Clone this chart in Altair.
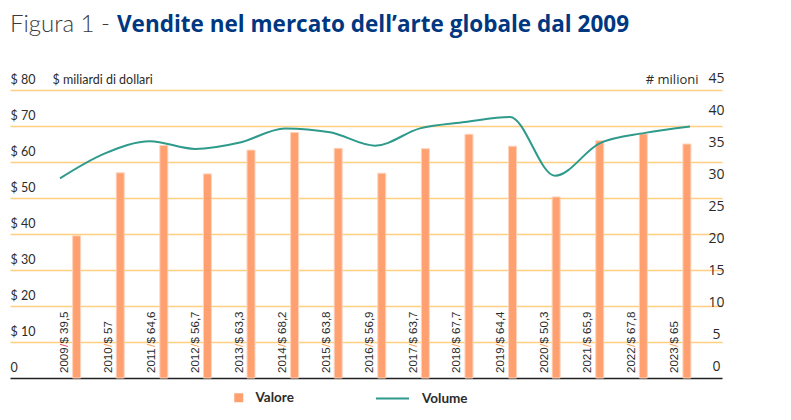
import altair as alt
import pandas as pd

# ---- data ----
anni = [2009, 2010, 2011, 2012, 2013, 2014, 2015, 2016, 2017, 2018, 2019, 2020, 2021, 2022, 2023]
valore = [39.5, 57, 64.6, 56.7, 63.3, 68.2, 63.8, 56.9, 63.7, 67.7, 64.4, 50.3, 65.9, 67.8, 65]
volume = [31.2, 35.1, 37.0, 35.8, 36.8, 39.0, 38.4, 36.3, 39.0, 40.0, 40.8, 31.6, 36.7, 38.3, 39.3]

left_ticks = [0, 10, 20, 30, 40, 50, 60, 70, 80]
right_ticks = [0, 5, 10, 15, 20, 25, 30, 35, 40, 45]

serie = ["Valore", "Volume"]
titolo_a = "Figura 1 - "
titolo_b = "Vendite nel mercato dell\u2019arte globale dal 2009"

df = pd.DataFrame({
    "anno": anni,
    "valore": valore,
    "volume": volume,
    "anno_txt": [str(a) for a in anni],
    "val_txt": [("$ %g" % v).replace(".", ",") for v in valore],
    "slash": ["/"] * len(anni),
    "zero": [0] * len(anni),
    "serie_b": [serie[0]] * len(anni),
    "serie_l": [serie[1]] * len(anni),
})
df_title = pd.DataFrame({"t": [0]})

ORANGE = "#ffa070"
TEAL = "#2e9a8b"
GRID = "#ffd080"
TXT = "#2b2b2b"

xscale = alt.Scale(domain=[2007.586, 2023.690], nice=False, zero=False)
yscale = alt.Scale(domain=[0, 80], nice=False)
left_axis = alt.Axis(
    values=left_ticks, ticks=False, tickSize=0, domain=False,
    labelAlign="left", labelPadding=0, labelOffset=-10.5, labelBaseline="middle",
    labelFlush=False, labelOverlap=False,
    labelExpr="datum.value == 0 ? '0' : '$ ' + datum.value",
    labelFont="Lato", labelFontSize=12.5, labelColor=TXT,
    grid=True,
    gridColor=alt.condition("datum.value == 0", alt.value("#222222"), alt.value(GRID)),
    gridWidth=1.6,
    title="$ miliardi di dollari", titleAngle=0, titleAlign="left", titleBaseline="middle",
    titleX=42, titleY=-10.5, titleFont="Lato", titleFontSize=12.5, titleFontWeight="normal",
    titleColor=TXT,
)

bars = alt.Chart(df).mark_bar(size=8, stroke="#ffd3bb", strokeWidth=1).encode(
    x=alt.X("anno:Q", scale=xscale, axis=None),
    y=alt.Y("valore:Q", scale=yscale, axis=left_axis),
    color=alt.Color(
        "serie_b:N",
        scale=alt.Scale(domain=[serie[0]], range=[ORANGE]),
        legend=alt.Legend(
            orient="none", legendX=222, legendY=301, title=None, padding=0,
            symbolType="square", symbolSize=81, symbolStrokeWidth=0,
            labelFont="Lato", labelFontSize=13.5, labelFontWeight="bold",
            labelColor=TXT, labelOffset=10,
        ),
    ),
)

common_txt = dict(angle=270, align="left", baseline="middle", font="Liberation Sans",
                  fontSize=11.5, dy=-11.5)
tx = alt.X("anno:Q", scale=xscale, axis=None)
ty = alt.Y("zero:Q", scale=yscale, axis=left_axis)
t_year = alt.Chart(df).mark_text(dx=5, color=TXT, **common_txt).encode(
    x=tx, y=ty, text="anno_txt:N")
t_slash = alt.Chart(df).mark_text(dx=31, **common_txt).encode(
    x=tx, y=ty, text="slash:N",
    color=alt.condition("datum.anno == 2009", alt.value("#ec4d6d"), alt.value("#f6a463")))
t_val = alt.Chart(df).mark_text(dx=34.5, color=TXT, **common_txt).encode(
    x=tx, y=ty, text="val_txt:N")

title_a = alt.Chart(df_title).mark_text(
    text=titolo_a, font="Lato", fontSize=24, fontWeight=300, color="#3a3a3a",
    align="left", baseline="alphabetic").encode(x=alt.value(0), y=alt.value(-58))
title_b = alt.Chart(df_title).mark_text(
    text=titolo_b, font="Open Sans", fontSize=22.5, fontWeight="bold", color="#003781",
    align="left", baseline="alphabetic").encode(x=alt.value(107), y=alt.value(-58))

inner = alt.layer(bars, t_year, t_slash, t_val, title_a, title_b)

line = alt.Chart(df).mark_line(interpolate="monotone", strokeWidth=2).encode(
    x=alt.X("anno:Q", scale=alt.Scale(domain=[2007.889, 2023.711], nice=False, zero=False), axis=None),
    y=alt.Y(
        "volume:Q",
        scale=alt.Scale(domain=[0, 45], nice=False),
        axis=alt.Axis(
            orient="right", values=right_ticks, grid=False, ticks=False, tickSize=0, domain=False,
            labelAlign="center", labelPadding=-6, labelOffset=-12, labelBaseline="middle",
            labelFlush=False, labelOverlap=False,
            labelFont="Open Sans", labelFontSize=14, labelColor=TXT,
            title="# milioni", titleAngle=0, titleAlign="right", titleBaseline="middle",
            titleX=-24, titleY=-10.5, titleFont="Open Sans", titleFontSize=13,
            titleFontWeight="normal", titleColor=TXT,
        ),
    ),
    stroke=alt.Stroke(
        "serie_l:N",
        scale=alt.Scale(domain=[serie[1]], range=[TEAL]),
        legend=alt.Legend(
            orient="none", legendX=365, legendY=291, title=None, padding=0,
            symbolType="stroke", symbolSize=1089, symbolStrokeWidth=2,
            labelFont="Lato", labelFontSize=13.5, labelFontWeight="bold",
            labelColor=TXT, labelOffset=12,
        ),
    ),
)

chart = alt.layer(inner, line).resolve_scale(
    y="independent", x="independent", color="independent", stroke="independent"
).properties(
    width=712, height=288,
    background="white",
    autosize=alt.AutoSizeParams(type="none"),
    padding={"left": 2, "top": 82, "right": 61, "bottom": 34},
).configure_view(stroke=None)

chart.save("out.html", embed_options={"renderer": "svg", "actions": False})
